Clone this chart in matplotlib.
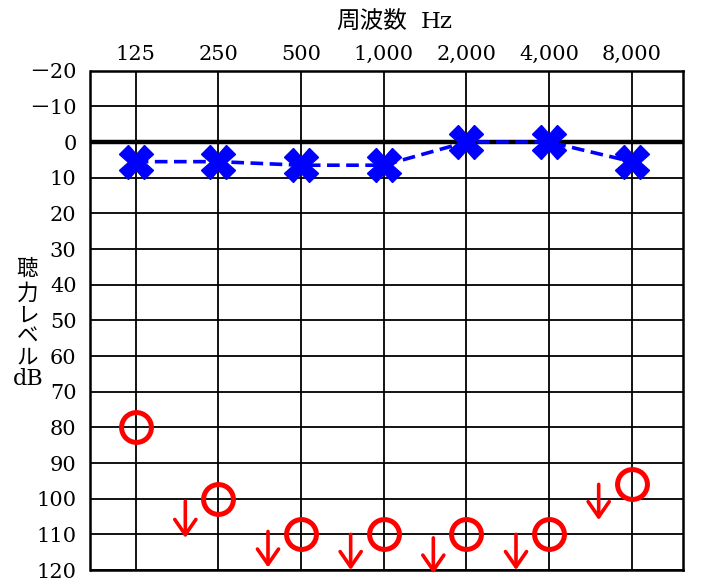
import matplotlib
matplotlib.use("Agg")
import matplotlib.pyplot as plt

freq_labels = ["125", "250", "500", "1,000", "2,000", "4,000", "8,000"]
db_ticks = [-20, -10, 0, 10, 20, 30, 40, 50, 60, 70, 80, 90, 100, 110, 120]
db_tick_labels = ["－20", "－10", "0", "10", "20", "30", "40", "50", "60", "70",
                  "80", "90", "100", "110", "120"]
air_right = [5.5, 5.5, 6.5, 6.5, 0, 0, 5.5]          # blue X
bone_or_left = [80, 100, 110, 110, 110, 110, 96]      # red O
arrow_pos = [0.6, 1.6, 2.6, 3.6, 4.6, 5.6]            # scale-out arrows (index)
arrow_from_db = [100.7, 109.2, 110, 111, 110, 96]
arrow_to_db = [111, 119.3, 120, 121, 120, 106]

fig = plt.figure(figsize=(7.06, 5.86), dpi=100)
ax = fig.add_axes([90.5 / 706, 1 - 570 / 586, (683 - 90.5) / 706, (570 - 70.7) / 586])

x = list(range(len(freq_labels)))
ax.set_xlim(-0.547, 6.62)
ax.set_ylim(120, -20)

# grid
for xi in x:
    ax.axvline(xi, color="black", lw=1.3, zorder=1)
for d in db_ticks:
    if d == 0:
        ax.axhline(d, color="black", lw=3.2, zorder=1)
    else:
        ax.axhline(d, color="black", lw=1.3, zorder=1)

for s in ax.spines.values():
    s.set_linewidth(1.8)
    s.set_zorder(2)

ax.xaxis.tick_top()
ax.set_xticks(x)
ax.set_xticklabels(freq_labels, family="DejaVu Serif", fontsize=15)
ax.set_yticks(db_ticks)
ax.set_yticklabels(db_tick_labels, family=["DejaVu Serif", "Noto Sans CJK JP"], fontsize=15)
ax.tick_params(axis="both", length=0)
ax.tick_params(axis="x", pad=5)
ax.tick_params(axis="y", pad=10)

# blue X with dashed line
ax.plot(x, air_right, color="#0000ff", lw=2.6, linestyle=(0, (3.5, 1.8)), zorder=3)
ax.plot(x, air_right, linestyle="none", marker="X", markersize=24,
        color="#0000ff", mec="#0000ff", zorder=4)

# red circles
ax.plot(x, bone_or_left, linestyle="none", marker="o", markersize=21.5,
        mfc="none", mec="#ff0000", mew=3.6, zorder=4)

# red arrows
for ax_x, y0, y1 in zip(arrow_pos, arrow_from_db, arrow_to_db):
    ax.annotate("", xy=(ax_x, y1), xytext=(ax_x, y0),
                arrowprops=dict(arrowstyle="->,head_length=0.55,head_width=0.38",
                                color="#ff0000", lw=2.6, mutation_scale=20,
                                shrinkA=0, shrinkB=0),
                annotation_clip=False, zorder=4)

# title
fig.text(407 / 706, 1 - 22 / 586, "周波数", ha="right", va="center",
         fontsize=17, family="Noto Sans CJK JP")
fig.text(421 / 706, 1 - 22 / 586, "Hz", ha="left", va="center",
         fontsize=16.5, family="DejaVu Serif")

# y label, vertical stacked
ylabel_chars = ["聴", "力", "レ", "ベ", "ル"]
ys = [269, 294, 316, 337, 357]
for ch, yy in zip(ylabel_chars, ys):
    fig.text(27.5 / 706, 1 - yy / 586, ch, ha="center", va="center",
             fontsize=15.5, family="Noto Sans CJK JP")
fig.text(28 / 706, 1 - 379 / 586, "dB", ha="center", va="center",
         fontsize=16, family="DejaVu Serif")

fig.savefig("out.png", dpi=100)
